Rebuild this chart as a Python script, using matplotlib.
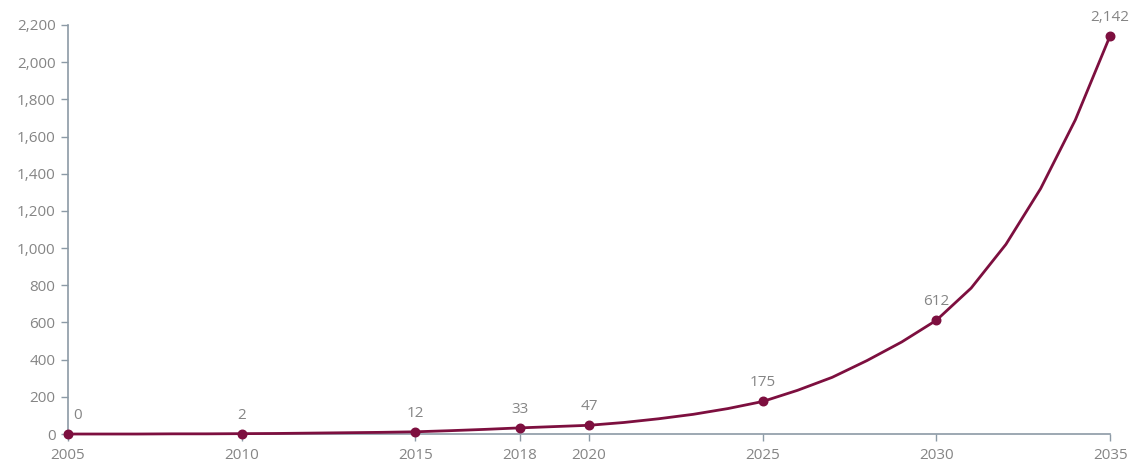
import matplotlib.pyplot as plt
from matplotlib.ticker import FuncFormatter

# yearly values; labelled years carry the printed numbers
years = list(range(2005, 2036))
values = [0, 0, 0, 1, 1, 2, 3, 5, 7, 9,
          12, 18, 25, 33, 40, 47, 62, 82, 106, 137,
          175, 235, 305, 395, 495, 612, 785, 1020, 1320, 1690,
          2142]

label_years = [2005, 2010, 2015, 2018, 2020, 2025, 2030, 2035]
label_values = [0, 2, 12, 33, 47, 175, 612, 2142]

y_ticks = list(range(0, 2201, 200))

line_color = '#7d0f3f'
text_color = '#858585'
axis_color = '#8c9aa6'

plt.rcParams['font.family'] = ['Open Sans', 'DejaVu Sans']

fig = plt.figure(figsize=(11.36, 4.68), dpi=100)
ax = fig.add_axes([0.0599, 0.0726, 0.9173, 0.874])

ax.plot(years, values, color=line_color, linewidth=2, solid_joinstyle='round',
        clip_on=False, zorder=3)
ax.scatter(label_years, label_values, s=38, color=line_color, zorder=4, clip_on=False)

for yr, v in zip(label_years, label_values):
    dx = 7 if yr == label_years[0] else 0
    ax.annotate(f'{v:,}', (yr, v), xytext=(dx, 8), textcoords='offset points',
                ha='center', va='bottom', fontsize=11, color=text_color)

ax.set_xlim(2005, 2035)
ax.set_ylim(0, 2200)
ax.set_xticks(label_years)
ax.set_yticks(y_ticks)
ax.yaxis.set_major_formatter(FuncFormatter(lambda v, p: f'{int(v):,}'))

for side in ['top', 'right']:
    ax.spines[side].set_visible(False)
for side in ['left', 'bottom']:
    ax.spines[side].set_color(axis_color)
    ax.spines[side].set_linewidth(1.2)

ax.tick_params(axis='both', colors=axis_color, labelcolor=text_color,
               labelsize=11, length=5, width=1)
ax.tick_params(axis='x', pad=5)
ax.tick_params(axis='y', pad=4)

fig.savefig('out.png', dpi=100)
